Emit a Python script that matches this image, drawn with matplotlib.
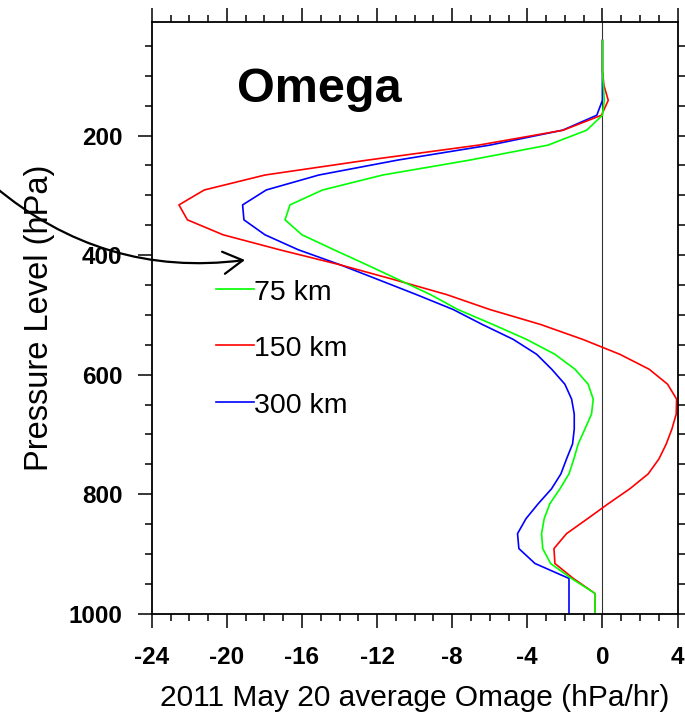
import matplotlib
matplotlib.use("Agg")
import matplotlib.pyplot as plt
from matplotlib.ticker import MultipleLocator

# pressure levels (hPa), bottom to top
levels = [1000, 966, 941, 916, 891, 866, 841, 816, 791, 766, 741, 716, 691,
          666, 641, 616, 591, 566, 541, 516, 491, 466, 441, 416, 391, 366,
          341, 316, 291, 266, 241, 216, 191, 166, 141, 116, 91, 66, 41]

# average omega (hPa/hr) for each grid spacing
omega_75 = [-0.40, -0.40, -1.65, -2.76, -3.18, -3.24, -3.10, -2.80, -2.26,
            -1.78, -1.52, -1.29, -0.93, -0.58, -0.49, -0.76, -1.46, -2.53,
            -4.04, -5.84, -7.70, -9.16, -10.86, -12.56, -14.30, -16.00,
            -16.90, -16.64, -14.90, -11.70, -7.06, -2.90, -0.84, 0.00, 0.10,
            0.05, 0.0, 0.0, 0.0]
omega_150 = [-0.40, -0.40, -1.55, -2.53, -2.58, -1.91, -0.79, 0.31, 1.46,
             2.44, 3.01, 3.40, 3.70, 3.93, 3.95, 3.47, 2.49, 0.93, -1.05,
             -3.30, -6.00, -8.30, -11.10, -14.00, -17.20, -20.20, -22.10,
             -22.55, -21.20, -17.97, -12.50, -6.60, -2.09, -0.05, 0.31, 0.08,
             0.0, 0.0, 0.0]
omega_300 = [-1.78, -1.78, -1.78, -3.59, -4.45, -4.52, -4.07, -3.42, -2.71,
             -2.21, -1.91, -1.59, -1.50, -1.50, -1.64, -2.00, -2.70, -3.50,
             -4.75, -6.40, -7.95, -9.91, -11.94, -13.98, -16.20, -17.97,
             -19.09, -19.16, -17.90, -15.10, -10.90, -6.00, -2.12, -0.30, 0.0,
             0.0, 0.0, 0.0, 0.0]

labels = ["75 km", "150 km", "300 km"]
colors = ["#00ff00", "#ff0000", "#0000ff"]
x_ticks = [-24, -20, -16, -12, -8, -4, 0, 4]
y_ticks = [200, 400, 600, 800, 1000]

plt.rcParams["font.family"] = ["Liberation Sans", "DejaVu Sans"]
plt.rcParams["axes.unicode_minus"] = False

fig = plt.figure(figsize=(6.85, 7.22), dpi=100)
ax = fig.add_axes([0.2215, 0.15, 0.7676, 0.8195])

ax.axvline(0, color="#333333", lw=0.8, zorder=1)

series = [omega_75, omega_150, omega_300]
# blue first, green last so green sits on top where lines overlap
for idx in (2, 1, 0):
    ax.plot(series[idx], levels, color=colors[idx], lw=1.2, zorder=2)

ax.set_xlim(-24, 4)
ax.set_ylim(1000, 10)
ax.set_xticks(x_ticks)
ax.set_yticks(y_ticks)
ax.xaxis.set_minor_locator(MultipleLocator(1))
ax.yaxis.set_minor_locator(MultipleLocator(50))
ax.tick_params(which="both", direction="out", top=True, right=True, width=1.1)
ax.tick_params(which="major", length=10, labelsize=17.5)
ax.tick_params(which="minor", length=5)
ax.tick_params(axis="x", which="major", pad=13)
ax.tick_params(axis="y", which="major", pad=11)
for lab in ax.get_xticklabels() + ax.get_yticklabels():
    lab.set_fontweight("bold")
for sp in ax.spines.values():
    sp.set_linewidth(1.3)

ax.set_xlabel("2011 May 20 average Omage (hPa/hr)", fontsize=21.5)
ax.set_ylabel("Pressure Level (hPa)", fontsize=23.5)
ax.xaxis.set_label_coords(0.5, -0.118)
ax.yaxis.set_label_coords(-0.184, 0.5)

ax.text(0.1617, 0.864, "Omega", transform=ax.transAxes, fontsize=35,
        fontweight="bold", ha="left", va="baseline")

# legend: line segment followed by label, NCL style
row_y = [0.5496, 0.4541, 0.3586]
for lab, col, yy in zip(labels, colors, row_y):
    ax.plot([0.1223, 0.1946], [yy, yy], color=col, lw=1.2,
            transform=ax.transAxes, clip_on=False)
    ax.text(0.1946, yy - 0.0194, lab, transform=ax.transAxes, fontsize=20.5,
            ha="left", va="baseline")

ax.annotate("", xy=(245, 722 - 260), xycoords="figure pixels",
            xytext=(-6, 722 - 186), textcoords="figure pixels",
            arrowprops=dict(arrowstyle="->,head_length=14,head_width=8",
                            mutation_scale=1, connectionstyle="arc3,rad=0.22",
                            lw=1.6, color="black", shrinkA=0, shrinkB=0),
            annotation_clip=False)

fig.savefig("out.png", dpi=100)
